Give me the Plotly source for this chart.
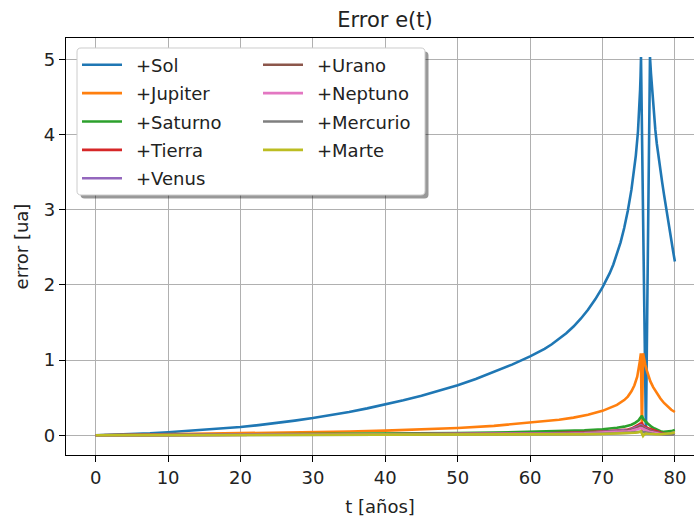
import plotly.graph_objects as go

# ---- Sol: sampled finely along the rise, the double peak and the decay ----
t_sol = [0, 2.5, 5, 7.5, 10, 12.5, 15, 17.5, 20, 22.5, 25, 27.5, 30, 32.5, 35,
         37.5, 40, 42.5, 45, 47.5, 50, 52.5, 55, 57.5, 60, 61, 62, 63, 64, 65,
         66, 67, 68, 69, 70, 70.5, 71, 71.5, 72, 72.5, 73, 73.5, 74, 74.3, 74.6,
         74.9, 75.1, 75.2, 75.26, 75.32, 76.0, 76.56, 76.7, 76.9, 77.1, 77.3,
         77.5, 77.75, 78, 78.25, 78.5, 78.75, 79, 79.25, 79.5, 79.75, 80]
err_sol = [0.0, 0.005, 0.014, 0.025, 0.04, 0.055, 0.072, 0.09, 0.11, 0.135, 0.163,
           0.195, 0.23, 0.268, 0.311, 0.358, 0.41, 0.465, 0.526, 0.593, 0.667,
           0.749, 0.84, 0.94, 1.05, 1.097, 1.15, 1.21, 1.278, 1.356, 1.446, 1.55,
           1.67, 1.808, 1.966, 2.056, 2.156, 2.271, 2.406, 2.566, 2.756, 2.986,
           3.266, 3.466, 3.716, 4.036, 4.336, 4.6, 4.78, 5.03, 0.03, 5.03, 4.81,
           4.52, 4.27, 4.06, 3.88, 3.69, 3.52, 3.36, 3.2, 3.04, 2.9, 2.76, 2.6,
           2.45, 2.31]

# ---- Jupiter ----
t_jup = [0, 5, 10, 15, 20, 25, 30, 35, 40, 45, 50, 55, 60, 62, 64, 66, 68, 70,
         71, 72, 73, 73.5, 74, 74.4, 74.8, 75.0, 75.15, 75.3, 75.45, 75.6, 75.75,
         75.9, 76.1, 76.3, 76.6, 77, 77.5, 78, 78.5, 79, 79.5, 80]
err_jupiter = [0.0, 0.006, 0.012, 0.018, 0.025, 0.032, 0.04, 0.05, 0.062, 0.078,
               0.098, 0.125, 0.165, 0.184, 0.207, 0.235, 0.272, 0.325, 0.36, 0.405,
               0.468, 0.515, 0.585, 0.662, 0.78, 0.88, 0.98, 1.09, 0.03, 1.09, 1.0,
               0.94, 0.87, 0.8, 0.72, 0.64, 0.56, 0.49, 0.43, 0.38, 0.34, 0.31]

# ---- remaining bodies share one time grid ----
t_anos = [0, 5, 10, 15, 20, 25, 30, 35, 40, 45, 50, 55, 60, 62.5, 65, 67.5,
          70, 71, 72, 73, 73.5, 74, 74.5, 75, 75.2, 75.3, 75.45, 75.6, 75.75,
          75.9, 76.0, 76.2, 76.4, 76.55, 76.8, 77.2, 77.6, 78, 78.5, 79, 79.5, 80]
err_saturno = [0.0, 0.002, 0.004, 0.006, 0.008, 0.01, 0.013, 0.016, 0.02, 0.024,
               0.029, 0.035, 0.043, 0.048, 0.055, 0.065, 0.08, 0.088, 0.1, 0.115,
               0.125, 0.14, 0.165, 0.2, 0.23, 0.25, 0.26, 0.22, 0.2, 0.19, 0.18,
               0.16, 0.14, 0.13, 0.11, 0.09, 0.07, 0.055, 0.045, 0.045, 0.055, 0.07]
err_tierra = [0.0, 0.001, 0.002, 0.003, 0.004, 0.005, 0.006, 0.008, 0.01, 0.012,
              0.014, 0.017, 0.022, 0.025, 0.03, 0.038, 0.05, 0.055, 0.062, 0.07,
              0.078, 0.09, 0.11, 0.14, 0.155, 0.16, 0.16, 0.13, 0.12, 0.115, 0.11,
              0.1, 0.09, 0.085, 0.075, 0.06, 0.05, 0.04, 0.02, 0.012, 0.012, 0.02]
err_venus = [0.0, 0.001, 0.002, 0.003, 0.004, 0.005, 0.006, 0.007, 0.009, 0.011,
             0.013, 0.016, 0.02, 0.023, 0.027, 0.034, 0.045, 0.05, 0.056, 0.063,
             0.07, 0.08, 0.095, 0.12, 0.13, 0.135, 0.13, 0.11, 0.1, 0.095, 0.09,
             0.08, 0.07, 0.065, 0.055, 0.045, 0.035, 0.025, 0.015, 0.015, 0.025, 0.04]
err_urano = [0.0, 0.001, 0.002, 0.003, 0.004, 0.005, 0.006, 0.007, 0.008, 0.01,
             0.012, 0.015, 0.019, 0.022, 0.025, 0.031, 0.04, 0.045, 0.05, 0.057,
             0.063, 0.072, 0.085, 0.105, 0.115, 0.12, 0.115, 0.1, 0.09, 0.085,
             0.08, 0.07, 0.062, 0.057, 0.05, 0.04, 0.03, 0.022, 0.015, 0.012,
             0.015, 0.022]
err_neptuno = [0.0, 0.001, 0.002, 0.002, 0.003, 0.004, 0.005, 0.006, 0.007, 0.008,
               0.01, 0.012, 0.016, 0.018, 0.021, 0.026, 0.034, 0.038, 0.043,
               0.048, 0.053, 0.06, 0.07, 0.088, 0.097, 0.1, 0.095, 0.083, 0.075,
               0.07, 0.066, 0.058, 0.05, 0.046, 0.04, 0.032, 0.025, 0.018, 0.012,
               0.012, 0.018, 0.03]
err_mercurio = [0.0, 0.0005, 0.001, 0.0015, 0.002, 0.0025, 0.003, 0.0035, 0.004,
                0.005, 0.006, 0.007, 0.009, 0.01, 0.012, 0.015, 0.02, 0.022, 0.025,
                0.028, 0.031, 0.035, 0.04, 0.048, 0.052, 0.055, 0.05, 0.044, 0.04,
                0.037, 0.035, 0.031, 0.027, 0.025, 0.022, 0.018, 0.014, 0.011, 0.008,
                0.008, 0.01, 0.014]
err_marte = [0.0, 0.0005, 0.001, 0.0015, 0.002, 0.0025, 0.003, 0.0035, 0.004,
             0.0045, 0.005, 0.006, 0.008, 0.009, 0.011, 0.014, 0.018, 0.02, 0.022,
             0.025, 0.027, 0.03, 0.033, 0.04, 0.045, 0.05, 0.02, -0.01, 0.01, 0.02,
             0.022, 0.02, 0.018, 0.017, 0.016, 0.015, 0.014, 0.014, 0.016, 0.02,
             0.028, 0.04]

names = ["+Sol", "+Jupiter", "+Saturno", "+Tierra", "+Venus",
         "+Urano", "+Neptuno", "+Mercurio", "+Marte"]
times = [t_sol, t_jup, t_anos, t_anos, t_anos, t_anos, t_anos, t_anos, t_anos]
series = [err_sol, err_jupiter, err_saturno, err_tierra, err_venus,
          err_urano, err_neptuno, err_mercurio, err_marte]
colors = ["#1f77b4", "#ff7f0e", "#2ca02c", "#d62728", "#9467bd",
          "#8c564b", "#e377c2", "#7f7f7f", "#bcbd22"]

x_ticks = [0, 10, 20, 30, 40, 50, 60, 70, 80]
y_ticks = [0, 1, 2, 3, 4, 5]

W, H = 694, 520
L, R, T, B = 66, 694, 38, 455   # plot area in pixels


def px(x):
    return (x - L) / (R - L)


def py(y):
    return (B - y) / (B - T)


FONT = "DejaVu Sans"
INK = "#222222"
fig = go.Figure()

for i, (name, tt, vals, col) in enumerate(zip(names, times, series, colors)):
    fig.add_trace(go.Scatter(
        x=tt, y=vals, mode="lines",
        name="\u2002" + name,          # en space: gap between handle and label
        line=dict(color=col, width=2.6),
        legend="legend" if i < 5 else "legend2",
        legendgroup=name,
    ))


def rounded_box(x0, y0, x1, y1, r):
    def P(x, y):
        return f"{px(x):.5f},{py(y):.5f}"
    return (f"M{P(x0 + r, y0)} L{P(x1 - r, y0)} Q{P(x1, y0)} {P(x1, y0 + r)} "
            f"L{P(x1, y1 - r)} Q{P(x1, y1)} {P(x1 - r, y1)} "
            f"L{P(x0 + r, y1)} Q{P(x0, y1)} {P(x0, y1 - r)} "
            f"L{P(x0, y0 + r)} Q{P(x0, y0)} {P(x0 + r, y0)} Z")


# legend frame with drop shadow
bx0, by0, bx1, by1 = 77, 48, 425, 195
fig.add_shape(type="path", xref="paper", yref="paper", layer="above",
              path=rounded_box(bx0 + 3.5, by0 + 3.5, bx1 + 3.5, by1 + 3.5, 4),
              fillcolor="rgba(0,0,0,0.4)", line=dict(width=0))
fig.add_shape(type="path", xref="paper", yref="paper", layer="above",
              path=rounded_box(bx0, by0, bx1, by1, 4),
              fillcolor="white", line=dict(color="#cccccc", width=1))

axis_common = dict(
    showgrid=True, gridcolor="#b0b0b0", gridwidth=1.3,
    showline=True, linecolor="black", linewidth=1.3,
    ticks="outside", ticklen=6, tickwidth=1.3, tickcolor="black",
    tickfont=dict(family=FONT, size=18, color=INK),
    zeroline=False,
)

legend_common = dict(xanchor="left", yanchor="top", bgcolor="rgba(0,0,0,0)",
                     borderwidth=0, tracegroupgap=2, itemwidth=40,
                     font=dict(family=FONT, size=18, color=INK))

fig.update_layout(
    width=W, height=H,
    margin=dict(l=L, r=W - R, t=T, b=H - B, pad=0),
    paper_bgcolor="white", plot_bgcolor="white",
    font=dict(family=FONT, size=18, color=INK),
    title=dict(text="Error e(t)", x=385 / W, xanchor="center",
               y=1 - 20 / H, yanchor="middle",
               font=dict(family=FONT, size=21, color=INK)),
    xaxis=dict(range=[-4.1, -4.1 + (R - L) / 7.24], tickvals=x_ticks,
               mirror=True,
               title=dict(text="t [años]", font=dict(family=FONT, size=18, color=INK),
                          standoff=13),
               **axis_common),
    yaxis=dict(range=[-0.262, 5.283], tickvals=y_ticks, mirror=False,
               title=dict(text="error [ua]", font=dict(family=FONT, size=18, color=INK),
                          standoff=10),
               **axis_common),
    legend=dict(x=px(77), y=py(46.5), **legend_common),
    legend2=dict(x=px(258), y=py(46.5), **legend_common),
    showlegend=True,
)

fig.write_html("out.html")
